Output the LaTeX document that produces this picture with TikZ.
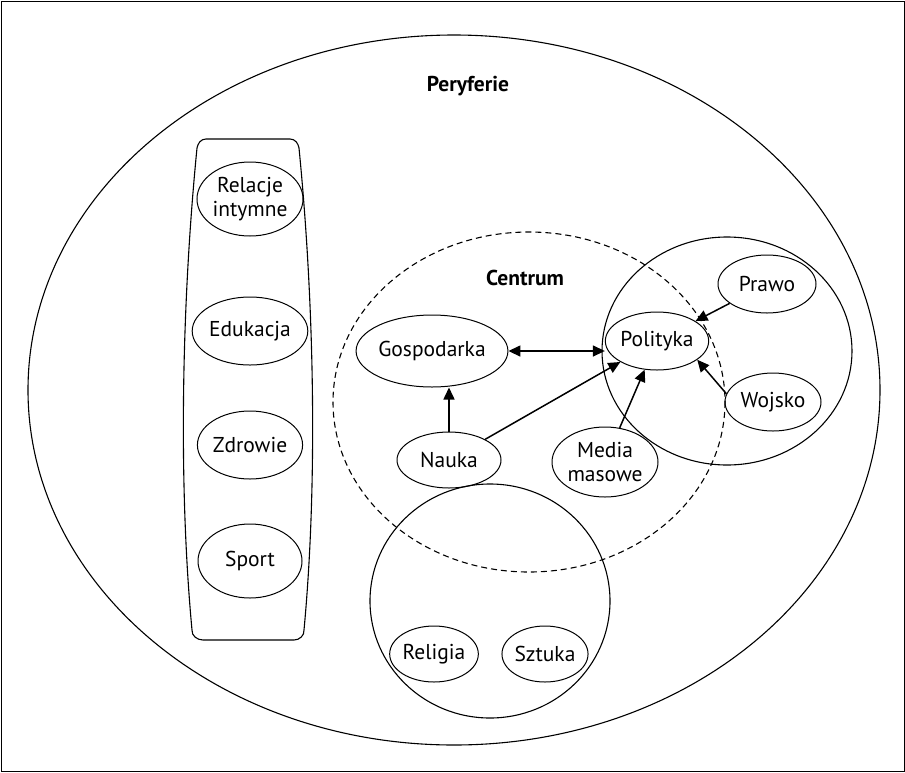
\documentclass[tikz,border=0pt]{standalone}
\usepackage{fontspec}
\setmainfont{PT Sans}
\usetikzlibrary{shapes.geometric,arrows.meta}
\begin{document}
\begin{tikzpicture}[x=1pt,y=-1pt,
  lbl/.style={font=\fontsize{21.5}{24}\selectfont, align=center},
  ell/.style={ellipse, draw, line width=1pt, inner sep=0pt, lbl},
  cont/.style={draw, line width=1.1pt},
  arr/.style={line width=1.5pt, -{Triangle[length=12pt,width=11pt]}},
  barr/.style={line width=1.5pt, {Triangle[length=12pt,width=11pt]}-{Triangle[length=12pt,width=11pt]}},
  title/.style={font=\fontsize{21.5}{24}\selectfont\bfseries}]
\useasboundingbox (0,0) rectangle (905,772);
\draw[line width=1pt] (1,1) rectangle (904,771);
% containers
\draw[cont] (454,390) ellipse [x radius=426, y radius=355];
\draw[cont, dash pattern=on 6pt off 4pt] (529,402) ellipse [x radius=196, y radius=170];
\draw[cont] (727,351) ellipse [x radius=125, y radius=114];
\draw[cont] (490,601) ellipse [x radius=120, y radius=117];
\draw[cont] (206,139) -- (290,139) to[out=0,in=100] (299,148)
  .. controls (314,300) and (318,480) .. (304,630) to[out=-85,in=0] (294,640)
  -- (203,640) to[out=180,in=-95] (192,630)
  .. controls (178,480) and (182,300) .. (197,148) to[out=80,in=180] cycle;
% titles
\node[title] (per) at (468,86) {Peryferie};
\node[title] (cen) at (525,278) {Centrum};
% left column
\node[ell, minimum width=104pt, minimum height=74pt] (rel) at (250,199) {Relacje\\intymne};
\node[ell, minimum width=96pt, minimum height=68pt] (edu) at (250,331) {Edukacja};
\node[ell, minimum width=96pt, minimum height=68pt] (zdr) at (250,445) {Zdrowie};
\node[ell, minimum width=104pt, minimum height=74pt] (spo) at (250,561) {Sport};
% centre
\node[ell, minimum width=126pt, minimum height=72pt] (gos) at (432,351) {Gospodarka};
\node[ell, minimum width=98pt, minimum height=58pt] (pol) at (657,341) {Polityka};
\node[ell, minimum width=98pt, minimum height=58pt] (pra) at (767,284) {Prawo};
\node[ell, minimum width=96pt, minimum height=58pt] (woj) at (773,402) {Wojsko};
\node[ell, minimum width=104pt, minimum height=56pt] (nau) at (449,460) {Nauka};
\node[ell, minimum width=104pt, minimum height=70pt] (med) at (605,462) {Media\\masowe};
\node[ell, minimum width=86pt, minimum height=56pt] (relg) at (434,654) {Religia};
\node[ell, minimum width=86pt, minimum height=56pt] (szt) at (545,654) {Sztuka};
% arrows
\draw[barr] (gos.east) -- (pol.west |- gos.east);
\draw[arr] (nau.north) -- (nau.north |- gos.south);
\draw[arr] (nau) -- (pol);
\draw[arr] (med) -- (pol);
\draw[arr] (pra) -- (pol);
\draw[arr] (woj.170) -- (pol.-25);
\end{tikzpicture}
\end{document}
